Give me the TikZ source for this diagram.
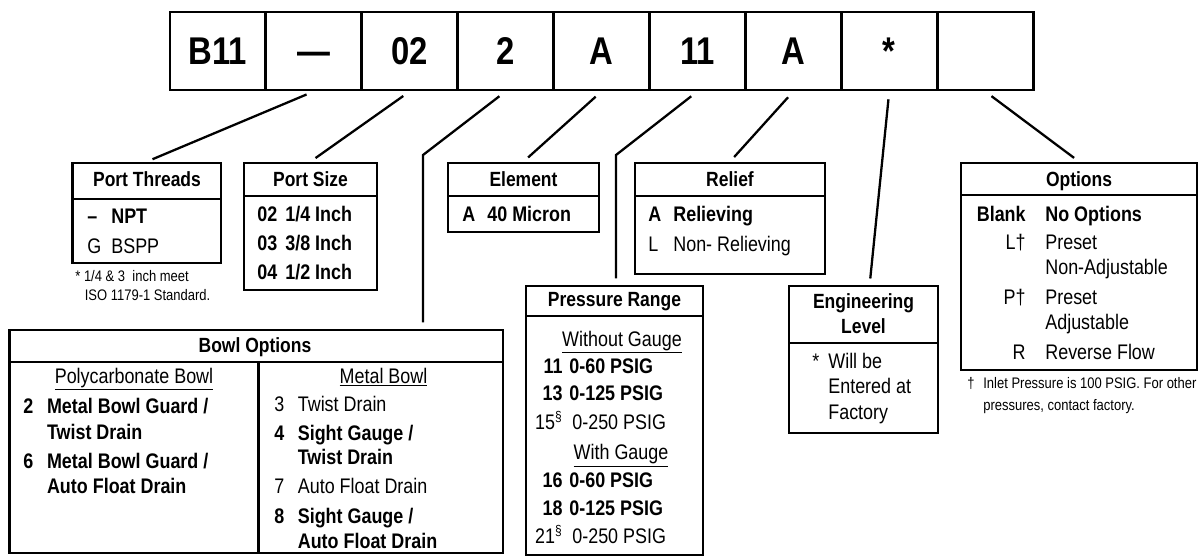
\documentclass[tikz,border=0pt]{standalone}
\usepackage{fontspec}
\setmainfont{Liberation Sans}[FakeStretch=0.85]
\usepackage{tikz}
\usetikzlibrary{fit}
\newcommand\bodyfont{\fontsize{12}{14}\selectfont}
\newcommand\ttlfont{\fontsize{11.7}{14}\selectfont}
\newcommand\notefont{\fontsize{8.7}{10}\selectfont}
\newcommand\codefont{\fontsize{22}{24}\selectfont}
\tikzset{
  cell/.style={
    draw, line width=1.6pt, inner sep=0pt,
    minimum width=1.918cm, minimum height=1.56cm,
    text height=15.75pt, text depth=0pt,
    font=\codefont\bfseries
  },
  box/.style={draw, line width=1.6pt, inner sep=0pt},
  rule/.style={line width=1.6pt},
  conn/.style={line width=1.3pt, shorten <=4.5pt, shorten >=3.5pt},
  % text styles (all set on the baseline)
  k/.style={inner sep=0pt, anchor=base west, font=\bodyfont},
  kb/.style={k, font=\bodyfont\bfseries},
  rk/.style={k, anchor=base east},
  rkb/.style={kb, anchor=base east},
  ttl/.style={inner sep=0pt, anchor=base, font=\ttlfont\bfseries},
  sub/.style={inner sep=0pt, anchor=base, font=\bodyfont},
  note/.style={inner sep=0pt, anchor=base west, font=\notefont}
}
\begin{document}
\begin{tikzpicture}[x=0.02cm, y=-0.02cm]
\useasboundingbox (0,0) rectangle (1199,556);
% model code row
\foreach \lab [count=\i] in {B11,—,02,2,A,11,A,*,{}}
  \node[cell] (c\i) at ({170+95.9*(\i-0.5)},51) {\lab};

% frames
\node[box, fit={(72.7,163) (221,263)}] (thr) {};
\node[box, fit={(244,163) (377,290)}] (size) {};
\node[box, fit={(448,163) (599,232)}] (elem) {};
\node[box, fit={(635,163) (825,274)}] (rel) {};
\node[box, fit={(961,163) (1197,370)}] (opt) {};
\node[box, fit={(526,286) (703,555)}] (pres) {};
\node[box, fit={(789,286) (938,433)}] (eng) {};
\node[box, fit={(9.5,330) (503,553)}] (bowl) {};
\draw[rule] (72.7,199) -- (221,199);
\draw[rule] (244,196) -- (377,196);
\draw[rule] (448,196) -- (599,196);
\draw[rule] (635,196) -- (825,196);
\draw[rule] (961,195) -- (1197,195);
\draw[rule] (526,316) -- (703,316);
\draw[rule] (789,343) -- (938,343);
\draw[rule] (9.5,362) -- (503,362);
\draw[rule] (258.6,362) -- (258.6,553);

% port threads
\node[ttl] (thrT) at (147,186) {Port Threads};
\node[kb] (thr1) at (87,223) {–};
\node[kb] (thrv1) at (111,223) {NPT};
\node[k] (thr2) at (87,253) {G};
\node[k] (thrv2) at (111,253) {BSPP};
\node[note] (thrN1) at (75,281) {* 1/4 \& 3\ \ inch meet};
\node[note] (thrN2) at (84.5,300) {ISO 1179-1 Standard.};

% port size
\node[ttl] (sizeT) at (310.5,186) {Port Size};
\foreach \k/\v/\y [count=\i] in {02/{1/4 Inch}/221, 03/{3/8 Inch}/250, 04/{1/2 Inch}/279} {
  \node[kb] (size\i) at (257,\y) {\k};
  \node[kb] (sizev\i) at (285,\y) {\v};
}

% element
\node[ttl] (elemT) at (523.5,186) {Element};
\node[kb] (elem1) at (462,221) {A};
\node[kb] (elemv1) at (487,221) {40 Micron};

% relief
\node[ttl] (relT) at (730,186) {Relief};
\node[kb] (rel1) at (648,221) {A};
\node[kb] (relv1) at (673,221) {Relieving};
\node[k] (rel2) at (648,251) {L};
\node[k] (relv2) at (673,251) {Non- Relieving};

% pressure range
\node[ttl] (presT) at (614.5,306) {Pressure Range};
\node[sub] (presS1) at (622,346) {\underline{Without Gauge}};
\node[sub] (presS2) at (621,459) {\underline{With Gauge}};
\foreach \k/\v/\y [count=\i] in {11/0-60 PSIG/373, 13/0-125 PSIG/400,
                                  16/0-60 PSIG/487, 18/0-125 PSIG/515} {
  \node[rkb] (pres\i) at (563,\y) {\k};
  \node[kb] (presv\i) at (569,\y) {\v};
}
\node[rk] (pres5) at (563,429) {15\textsuperscript{§}};
\node[k] (presv5) at (572,429) {0-250 PSIG};
\node[rk] (pres6) at (563,543) {21\textsuperscript{§}};
\node[k] (presv6) at (572,543) {0-250 PSIG};

% engineering level
\node[ttl] (engT1) at (863.5,308) {Engineering};
\node[ttl] (engT2) at (863.5,333) {Level};
\node[k] (eng1) at (812,368) {*};
\node[k] (engv1) at (828,368) {Will be};
\node[k] (engv2) at (828,393) {Entered at};
\node[k] (engv3) at (828,419) {Factory};

% options
\node[ttl] (optT) at (1079,186) {Options};
\node[rkb] (opt1) at (1026,221) {Blank};
\node[kb] (optv1) at (1045,221) {No Options};
\node[rk] (opt2) at (1026,249) {L†};
\node[k] (optv2) at (1045,249) {Preset};
\node[k] (optv3) at (1045,274) {Non-Adjustable};
\node[rk] (opt4) at (1026,304) {P†};
\node[k] (optv4) at (1045,304) {Preset};
\node[k] (optv5) at (1045,329) {Adjustable};
\node[rk] (opt6) at (1026,359) {R};
\node[k] (optv6) at (1045,359) {Reverse Flow};
\node[note] (optN0) at (967,388) {†};
\node[note] (optN1) at (983,388) {Inlet Pressure is 100 PSIG. For other};
\node[note] (optN2) at (983,410) {pressures, contact factory.};

% bowl options
\node[ttl] (bowlT) at (255,352) {Bowl Options};
\node[sub] (bowlS1) at (134,383) {\underline{Polycarbonate Bowl}};
\node[sub] (bowlS2) at (383.5,383) {\underline{Metal Bowl}};
\node[kb] (bowl1) at (23,413) {2};
\node[kb] (bowlv1) at (46.7,413) {Metal Bowl Guard /};
\node[kb] (bowlv2) at (46.7,439) {Twist Drain};
\node[kb] (bowl3) at (23,468) {6};
\node[kb] (bowlv3) at (46.7,468) {Metal Bowl Guard /};
\node[kb] (bowlv4) at (46.7,493) {Auto Float Drain};
\node[k] (bowl5) at (274,411) {3};
\node[k] (bowlv5) at (297.5,411) {Twist Drain};
\node[kb] (bowl6) at (274,440) {4};
\node[kb] (bowlv6) at (297.5,440) {Sight Gauge /};
\node[kb] (bowlv7) at (297.5,464) {Twist Drain};
\node[k] (bowl8) at (274,493) {7};
\node[k] (bowlv8) at (297.5,493) {Auto Float Drain};
\node[kb] (bowl9) at (274,523) {8};
\node[kb] (bowlv9) at (297.5,523) {Sight Gauge /};
\node[kb] (bowlv10) at (297.5,548) {Auto Float Drain};

% leaders
\coordinate (bowlbend) at (423,155);
\coordinate (presbend) at (616,155);
\draw[conn] (c2.south) -- (thr.north);
\draw[conn] (c3.south) -- (size.north);
\draw[conn] (c4.south) -- (bowlbend) -- (bowlbend |- bowl.north);
\draw[conn] (c5.south) -- (elem.north);
\draw[conn] (c6.south) -- (presbend) -- (presbend |- pres.north);
\draw[conn] (c7.south) -- (rel.north);
\draw[conn] (c8.south) -- ([xshift=3.5pt]eng.north);
\draw[conn] (c9.south) -- (opt.north);
\end{tikzpicture}
\end{document}
